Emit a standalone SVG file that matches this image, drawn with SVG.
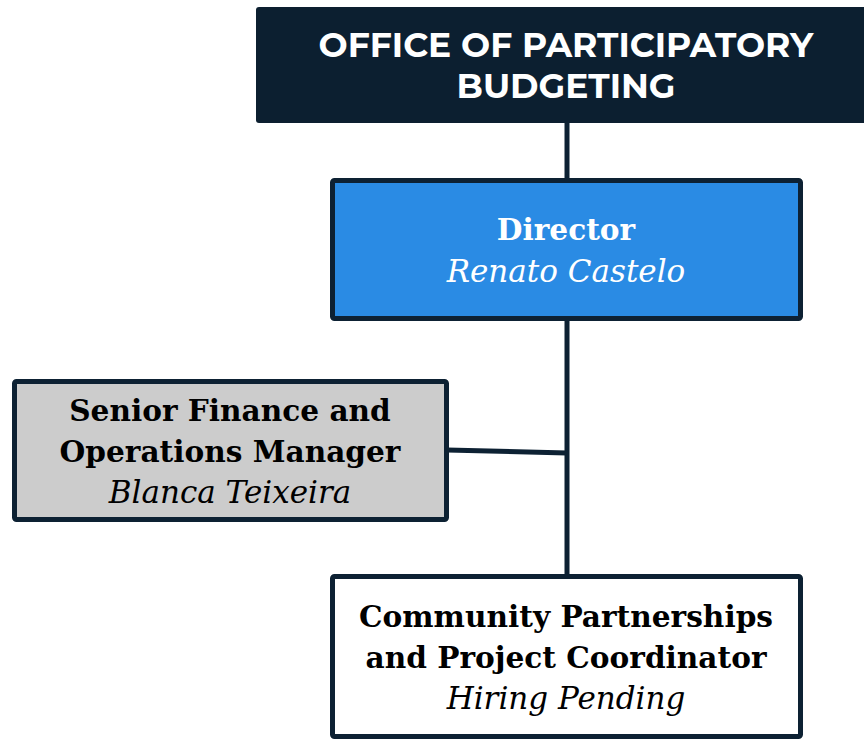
<svg xmlns="http://www.w3.org/2000/svg" width="864" height="739" viewBox="0 0 864 739">
<style>
.box{stroke:#0d2133;stroke-width:5}
.conn{stroke:#0d2133;stroke-width:5;fill:none}
.h{font-family:"Montserrat","Inter","Open Sans","Liberation Sans",sans-serif;font-weight:700;font-size:34.5px;fill:#ffffff;text-anchor:middle}
.t{font-family:"DejaVu Serif","Liberation Serif",serif;font-weight:700;font-size:29.6px;text-anchor:middle}
.n{font-family:"DejaVu Serif","Liberation Serif",serif;font-style:italic;font-size:31px;text-anchor:middle}
</style>
<rect width="864" height="739" fill="#ffffff"/>
<g id="connectors">
<line class="conn" x1="567" y1="122" x2="567" y2="182"/>
<line class="conn" x1="567" y1="318" x2="567" y2="576"/>
<line class="conn" x1="447" y1="450" x2="567" y2="453"/>
</g>
<g id="office">
<rect x="256" y="7" width="620" height="116" rx="3" fill="#0c1f30"/>
<text class="h" x="566" y="57">OFFICE OF PARTICIPATORY</text>
<text class="h" x="566" y="98">BUDGETING</text>
</g>
<g id="director">
<rect class="box" x="332.5" y="180.5" width="468" height="138" rx="2" fill="#2a8be4"/>
<text class="t" x="566" y="240" fill="#ffffff">Director</text>
<text class="n" x="566" y="282" fill="#ffffff">Renato Castelo</text>
</g>
<g id="finance">
<rect class="box" x="14.5" y="381.5" width="432" height="138" rx="2" fill="#cccccc"/>
<text class="t" x="230" y="421" fill="#000000">Senior Finance and</text>
<text class="t" x="230" y="462" fill="#000000">Operations Manager</text>
<text class="n" x="230" y="503" fill="#000000">Blanca Teixeira</text>
</g>
<g id="coordinator">
<rect class="box" x="332.5" y="576.5" width="468" height="160" rx="2" fill="#ffffff"/>
<text class="t" x="566" y="627" fill="#000000">Community Partnerships</text>
<text class="t" x="566" y="668" fill="#000000">and Project Coordinator</text>
<text class="n" x="566" y="709" fill="#000000">Hiring Pending</text>
</g>
</svg>
